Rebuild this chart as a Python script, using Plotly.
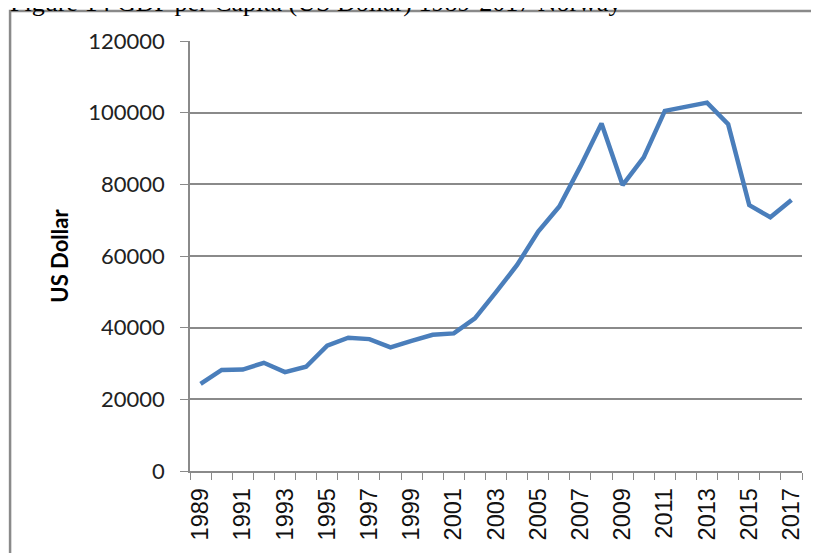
import plotly.graph_objects as go

# GDP per capita, Norway (US dollars)
years = [str(y) for y in range(1989, 2018)]
gdp = [
    24300, 28200, 28300, 30200, 27600, 29100, 35000, 37200, 36800, 34500,
    36300, 38000, 38400, 42600, 49900, 57500, 66800, 73800, 85000, 97000,
    79800, 87500, 100500, 101500, 102800, 96800, 74200, 70800, 75600,
]
tick_text = [y if int(y) % 2 == 1 else "" for y in years]
y_ticks = [0, 20000, 40000, 60000, 80000, 100000, 120000]
y_tick_text = [str(v) for v in y_ticks]

TITLE = "Figure 14 GDP per Capita (US Dollar) 1989-2017 Norway"
GREY = "#8a8a8a"

fig = go.Figure(go.Scatter(
    x=years, y=gdp,
    mode="lines",
    line=dict(color="#4a7ebb", width=4.5),
    hovertemplate="%{x}: $%{y:,.0f}<extra></extra>",
))

# Outer chart border (runs off the right and bottom edges like the scan)
fig.add_shape(
    type="rect", xref="paper", yref="paper",
    x0=-0.294, x1=1.06, y0=-0.30, y1=1.07,
    line=dict(color=GREY, width=2.5), layer="below",
)

# Caption sits above the border and is clipped by the top edge
fig.add_annotation(
    text=TITLE, xref="paper", yref="paper",
    x=-0.298, y=1.05, xanchor="left", yanchor="bottom",
    showarrow=False,
    font=dict(family="Liberation Serif, Times New Roman, serif", size=26, color="#000"),
)

# page body adds an 8px margin, so the figure is sized/offset to compensate
fig.update_layout(
    width=811, height=545,
    template="none",
    paper_bgcolor="white", plot_bgcolor="white",
    margin=dict(l=182, r=17, t=33, b=82, pad=0),
    showlegend=False,
    xaxis=dict(
        type="category",
        range=[-0.5, len(years) - 0.5],
        tickvals=years, ticktext=tick_text,
        tickangle=-90,
        tickson="boundaries",
        ticks="outside", ticklen=7, tickcolor=GREY, tickwidth=1,
        ticklabelstandoff=6,
        showline=True, linecolor=GREY, linewidth=1.5,
        showgrid=False, zeroline=False,
        automargin=False,
        tickfont=dict(family="Liberation Sans, Arial, sans-serif", size=23.5, color="#111"),
    ),
    yaxis=dict(
        range=[0, 120000],
        tickvals=y_ticks, ticktext=y_tick_text,
        ticks="outside", ticklen=8, tickcolor=GREY, tickwidth=1,
        ticklabelstandoff=11,
        showline=True, linecolor=GREY, linewidth=1.5,
        showgrid=True, gridcolor=GREY, gridwidth=1.5,
        zeroline=False,
        automargin=False,
        tickfont=dict(family="Lato, sans-serif", size=22, color="#222"),
        title=dict(text="<b>US Dollar</b>", standoff=14,
                   font=dict(family="Lato, sans-serif", size=22, color="#000")),
    ),
)

fig.write_html("out.html")
